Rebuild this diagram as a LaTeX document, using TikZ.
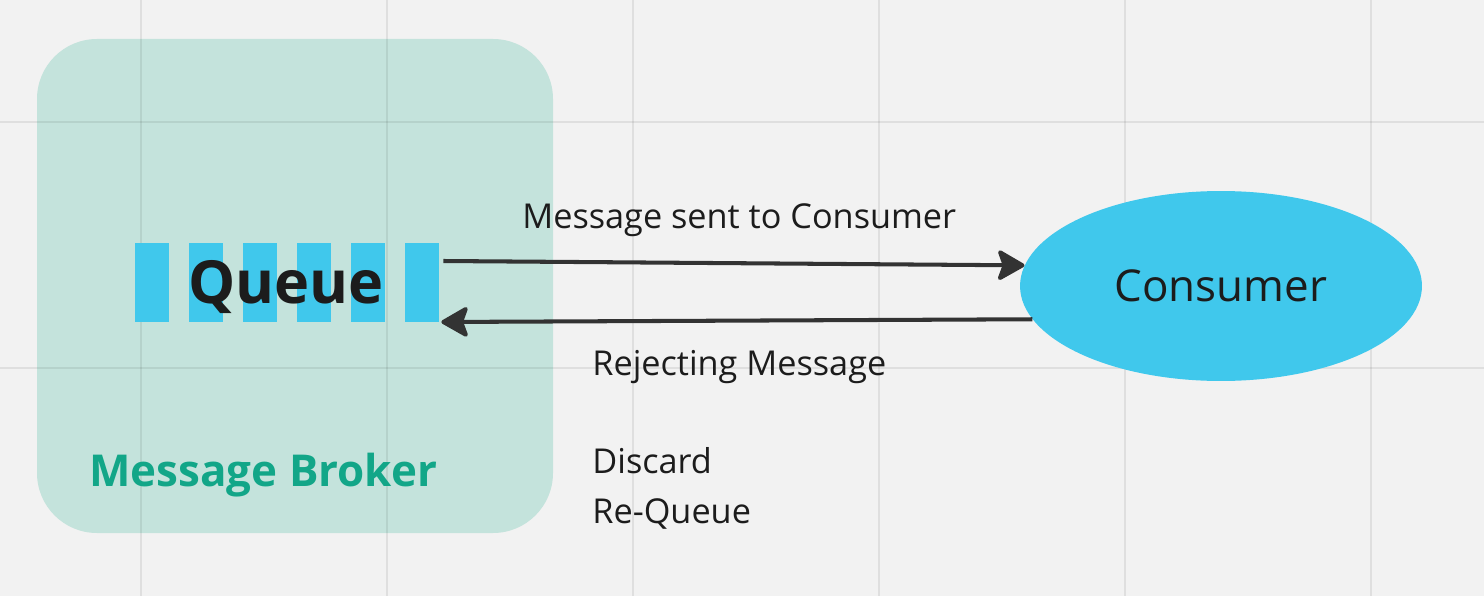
\documentclass[tikz,border=0pt]{standalone}
\usepackage{fontspec}
\setmainfont{Open Sans}
\usepackage{tikz}
\usetikzlibrary{arrows.meta,positioning,shapes.geometric}
\definecolor{canvas}{HTML}{F2F2F2}
\definecolor{brokerfill}{HTML}{C4E3DC}
\definecolor{brokertext}{HTML}{12A688}
\definecolor{queueblue}{HTML}{40C8EC}
\definecolor{inkdark}{HTML}{333333}
\definecolor{textdark}{HTML}{1C1C1C}
\tikzset{
		x=0.02cm, y=0.02cm,
		gridline/.style={black, opacity=0.075, line width=1.1pt},
		brokerbox/.style={fill=brokerfill, rounded corners=1.2cm},
		queuebar/.style={fill=queueblue},
		consumernode/.style={
			ellipse,
			fill=queueblue,
			minimum width=8.04cm,
			minimum height=3.8cm,
			font=\fontsize{25}{30}\selectfont,
			text=textdark},
		flow/.style={draw=inkdark, line width=2.3pt,
			-{Stealth[length=0.6cm, width=0.68cm, inset=0.12cm, round]}},
		lbl/.style={font=\fontsize{19.5}{24}\selectfont, text=textdark, inner sep=0pt},
	}
\begin{document}
\begin{tikzpicture}
	\fill[canvas] (0,0) rectangle (1484,596);
	\useasboundingbox (0,0) rectangle (1484,596);
	
	%% broker
	\fill[brokerbox] (37,63) rectangle (553,557);
	
	%% grid
	\foreach \gx in {141,387,633,879,1125,1371}
		\draw[gridline] (\gx,0) -- (\gx,596);
	\foreach \gy in {228,474}
		\draw[gridline] (0,\gy) -- (1484,\gy);
	
	%% queue
	\node[minimum width=6.08cm, minimum height=1.58cm, inner sep=0pt] (queue) at (287,313.5) {};
	\foreach \i in {0,...,5}
		\fill[queuebar] (135+54*\i,274) rectangle (169+54*\i,353);
	\node[anchor=base, font=\fontsize{33.8}{38}\selectfont\bfseries, text=textdark] (queuelbl) at (286,293) {Queue};
	\node[anchor=base west, font=\fontsize{25}{30}\selectfont\bfseries, text=brokertext, inner sep=0pt] (brokerlbl) at (89,110) {Message Broker};
	
	%% consumer
	\node[consumernode] (consumer) at (1221,310) {Consumer};
	
	%% messages
	\draw[flow] ([xshift=0.08cm, yshift=0.43cm]queue.east) -- (consumer.174);
	\draw[flow] (consumer.190) -- ([xshift=0.04cm, yshift=-0.79cm]queue.east);
	
	\node[lbl, anchor=base west] (sentlbl) at (522,368) {Message sent to Consumer};
	\node[lbl, anchor=base west] (rejectlbl) at (592,221) {Rejecting Message};
	\node[lbl, anchor=base west] (discardlbl) at (592,123) {Discard};
	\node[lbl, anchor=base west] (requeuelbl) at (592,73) {Re-Queue};
\end{tikzpicture}
\end{document}
